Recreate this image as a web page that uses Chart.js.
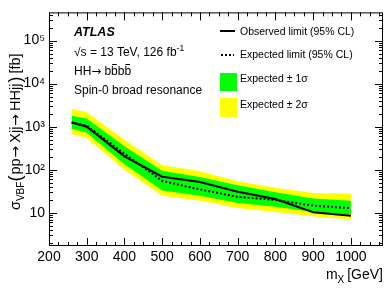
<!doctype html>
<html lang="en">
<head>
<meta charset="utf-8">
<title>VBF HH spin-0 broad resonance limits</title>
<script src="https://cdn.jsdelivr.net/npm/chart.js"></script>
<style>
  html, body { margin: 0; padding: 0; background: #fff; }
  #wrap { width: 391px; height: 292px; }
</style>
</head>
<body>
<div id="wrap"><canvas id="limitChart" width="391" height="292"></canvas></div>
<script>
// resonance mass points [GeV]
const masses = [260, 300, 400, 500, 600, 700, 800, 900, 1000];
// 95% CL limits on sigma_VBF(pp -> Xjj -> HHjj) [fb]
const observed = [1250, 1000, 205, 69, 52, 31, 21, 10.3, 8.6];
const expected = [1250, 1050, 235, 55, 35, 23.5, 20, 14.7, 12.8];
const plus1 = [1800, 1550, 350, 95, 68, 44, 30, 21.6, 19.2];
const minus1 = [900, 720, 135, 33, 25, 17, 13.8, 10.5, 9.2];
const plus2 = [2600, 2150, 500, 128, 92, 54, 38.5, 28.8, 28];
const minus2 = [675, 550, 100, 25, 19, 13, 10.5, 8.3, 7];

const xTicks = [200, 300, 400, 500, 600, 700, 800, 900, 1000];
const yTicks = [10, 100, 1000, 10000, 100000];
const yTickLabels = ['10', '10²', '10³', '10⁴', '10⁵'];

const FONT = "'Liberation Sans', Arial, Helvetica, sans-serif";
const ARROW_FONT = "'DejaVu Sans', sans-serif";
Chart.defaults.font.family = FONT;
Chart.defaults.color = '#000';

const pts = arr => masses.map((m, i) => ({ x: m, y: arr[i] }));
const noLine = 'rgba(0,0,0,0)';

// draw a run of text pieces; each piece may be smaller/shifted (sub/superscripts)
function setFont(ctx, p) {
  ctx.font = (p.style || '') + ' ' + p.size + 'px ' + (p.family || FONT);
}
function drawPieces(ctx, pieces, x, y) {
  let cx = x;
  for (const p of pieces) {
    setFont(ctx, p);
    ctx.fillText(p.t, cx, y + (p.dy || 0));
    cx += ctx.measureText(p.t).width + (p.gap || 0);
  }
  return cx - x;
}
function piecesWidth(ctx, pieces) {
  let w = 0;
  for (const p of pieces) {
    setFont(ctx, p);
    w += ctx.measureText(p.t).width + (p.gap || 0);
  }
  return w;
}

const decorations = {
  id: 'decorations',
  afterDraw(chart) {
    const { ctx, chartArea: a, scales: { x, y } } = chart;
    ctx.save();
    ctx.strokeStyle = '#000';
    ctx.lineWidth = 1;
    ctx.strokeRect(a.left + 0.5, a.top + 0.5, a.right - a.left - 1, a.bottom - a.top - 1);

    // inward ticks on all four sides
    ctx.beginPath();
    for (let v = x.min; v <= x.max; v += 25) {
      const px = Math.round(x.getPixelForValue(v)) + 0.5;
      const len = v % 100 === 0 ? 8 : 4;
      ctx.moveTo(px, a.bottom); ctx.lineTo(px, a.bottom - len);
      ctx.moveTo(px, a.top); ctx.lineTo(px, a.top + len);
    }
    for (let e = 0; e <= 5; e++) {
      for (let k = 1; k <= 9; k++) {
        const v = k * Math.pow(10, e);
        if (v < y.min || v > y.max) continue;
        const py = Math.round(y.getPixelForValue(v)) + 0.5;
        const len = k === 1 ? 8 : 4;
        ctx.moveTo(a.left, py); ctx.lineTo(a.left + len, py);
        ctx.moveTo(a.right, py); ctx.lineTo(a.right - len, py);
      }
    }
    ctx.stroke();

    ctx.fillStyle = '#000';
    ctx.textBaseline = 'alphabetic';
    ctx.textAlign = 'left';

    // ATLAS label block
    ctx.font = 'italic bold 12.5px ' + FONT;
    ctx.fillText('ATLAS', 74, 36);
    drawPieces(ctx, [
      { t: '√s = 13 TeV, 126 fb', size: 12 },
      { t: '-1', size: 8.5, dy: -5 }
    ], 74, 55.5);
    const hhW = drawPieces(ctx, [
      { t: 'HH', size: 12 },
      { t: '→', size: 12, family: ARROW_FONT, gap: 3 }
    ], 74, 75);
    ctx.font = '12px ' + FONT;
    const bx = 74 + hhW;
    const bw = ctx.measureText('b').width;
    ctx.fillText('bbbb', bx, 75);
    ctx.fillRect(bx + bw + 1, 64, bw - 2, 1);
    ctx.fillRect(bx + 3 * bw + 1, 64, bw - 2, 1);
    ctx.fillText('Spin-0 broad resonance', 74, 94);

    // legend
    ctx.lineWidth = 2;
    ctx.beginPath();
    ctx.moveTo(220, 31); ctx.lineTo(235, 31);
    ctx.stroke();
    ctx.setLineDash([2, 2]);
    ctx.beginPath();
    ctx.moveTo(221, 55); ctx.lineTo(234, 55);
    ctx.stroke();
    ctx.setLineDash([]);
    ctx.fillStyle = '#00ff00';
    ctx.fillRect(220, 73, 17, 18);
    ctx.fillStyle = '#ffff00';
    ctx.fillRect(220, 98, 17, 19);
    ctx.fillStyle = '#000';
    ctx.font = '10.5px ' + FONT;
    ctx.fillText('Observed limit (95% CL)', 240, 34.5);
    ctx.fillText('Expected limit (95% CL)', 240, 58);
    ctx.fillText('Expected ± 1σ', 240, 82);
    ctx.fillText('Expected ± 2σ', 240, 107.5);

    // x axis title, right aligned to the frame
    const xt = [
      { t: 'm', size: 14 },
      { t: 'X', size: 10, dy: 4, gap: 3 },
      { t: '[GeV]', size: 14 }
    ];
    drawPieces(ctx, xt, a.right - piecesWidth(ctx, xt), 279);

    // y axis title, rotated
    ctx.save();
    ctx.translate(20, 210);
    ctx.rotate(-Math.PI / 2);
    drawPieces(ctx, [
      { t: 'σ', size: 14.5 },
      { t: 'VBF', size: 10, dy: 4 },
      { t: '(', size: 18, dy: 1, gap: 1 },
      { t: 'pp', size: 14.5, gap: 1 },
      { t: '→', size: 14, family: ARROW_FONT, gap: 3 },
      { t: 'Xjj', size: 14.5, gap: 1 },
      { t: '→', size: 14, family: ARROW_FONT, gap: 3 },
      { t: 'HHjj', size: 14.5, gap: 1 },
      { t: ')', size: 18, dy: 1, gap: 3 },
      { t: '[fb]', size: 14.5 }
    ], 0, 0);
    ctx.restore();

    ctx.restore();
  }
};

new Chart(document.getElementById('limitChart'), {
  type: 'line',
  data: {
    datasets: [
      { label: 'Observed', data: pts(observed), borderColor: '#000', borderWidth: 2, pointRadius: 0, fill: false },
      { label: 'Expected', data: pts(expected), borderColor: '#000', borderWidth: 2, borderDash: [2, 2], pointRadius: 0, fill: false },
      { label: '+1 sigma', data: pts(plus1), borderColor: noLine, borderWidth: 0, pointRadius: 0, backgroundColor: '#00ff00', fill: '+1' },
      { label: '-1 sigma', data: pts(minus1), borderColor: noLine, borderWidth: 0, pointRadius: 0, fill: false },
      { label: '+2 sigma', data: pts(plus2), borderColor: noLine, borderWidth: 0, pointRadius: 0, backgroundColor: '#ffff00', fill: '+1' },
      { label: '-2 sigma', data: pts(minus2), borderColor: noLine, borderWidth: 0, pointRadius: 0, fill: false }
    ]
  },
  options: {
    responsive: false,
    animation: false,
    devicePixelRatio: 1,
    layout: { padding: { top: 10, right: 8, left: 0, bottom: 0 } },
    plugins: { legend: { display: false }, tooltip: { enabled: false } },
    scales: {
      x: {
        type: 'linear', min: 200, max: 1085,
        grid: { display: false, drawTicks: false }, border: { display: false },
        afterBuildTicks: s => { s.ticks = xTicks.map(v => ({ value: v })); },
        afterFit: s => { s.height = 46; },
        ticks: { autoSkip: false, maxRotation: 0, padding: 3, font: { size: 14 }, callback: v => String(v) }
      },
      y: {
        type: 'logarithmic', min: 1.7, max: 4.5e5,
        grid: { display: false, drawTicks: false }, border: { display: false },
        afterBuildTicks: s => { s.ticks = yTicks.map(v => ({ value: v })); },
        afterFit: s => { s.width = 49; },
        ticks: { autoSkip: false, padding: 4, font: { size: 14 }, callback: v => yTickLabels[yTicks.indexOf(v)] || '' }
      }
    }
  },
  plugins: [decorations]
});
</script>
</body>
</html>
